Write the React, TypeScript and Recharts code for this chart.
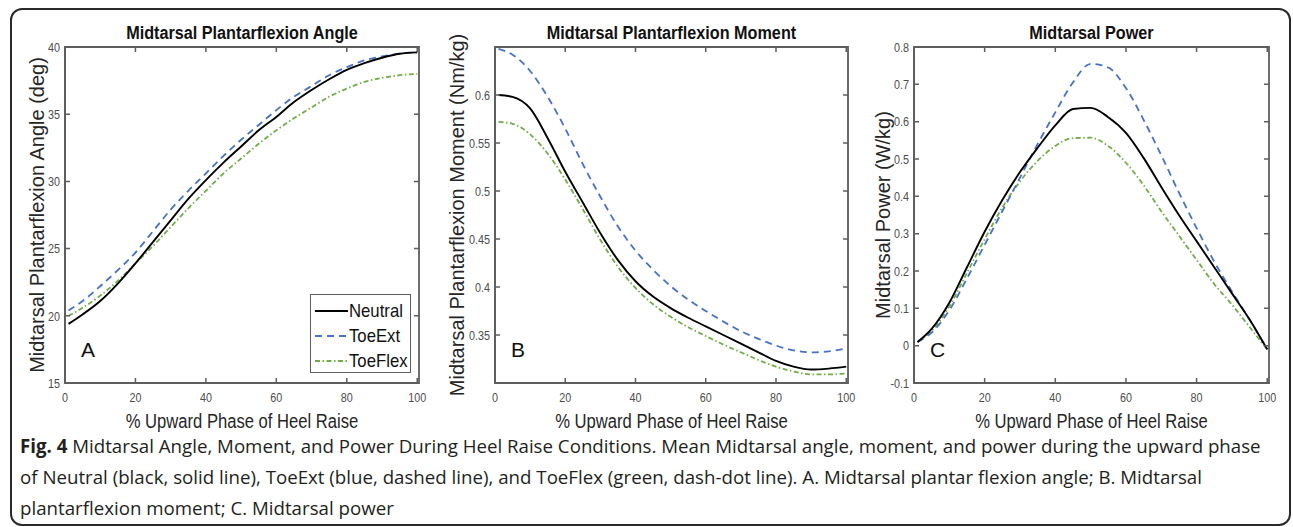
import { Legend, Line, LineChart, ReferenceArea, XAxis, YAxis } from "recharts";

// % of upward phase where the curves were sampled
const pct = [1, 5, 10, 15, 20, 25, 30, 35, 40, 45, 50, 55, 60, 65, 70, 75, 80, 85, 90, 95, 100];
const xTicks = [0, 20, 40, 60, 80, 100];
const X_MAX = 100.5;

// A. plantarflexion angle (deg)
const angleNeutral = [19.4, 20.1, 21.1, 22.4, 23.9, 25.5, 27.1, 28.7, 30.1, 31.4, 32.6, 33.8, 34.8, 35.9, 36.8, 37.6, 38.3, 38.8, 39.2, 39.5, 39.6];
const angleToeExt = [20.4, 21.1, 22.2, 23.4, 24.7, 26.3, 27.9, 29.3, 30.6, 31.9, 33.1, 34.2, 35.3, 36.3, 37.1, 37.9, 38.5, 39.0, 39.3, 39.5, 39.6];
const angleToeFlex = [20.0, 20.6, 21.5, 22.6, 23.9, 25.2, 26.6, 28.0, 29.3, 30.6, 31.7, 32.8, 33.8, 34.7, 35.5, 36.3, 36.9, 37.4, 37.7, 37.9, 38.0];
const angleTicks = [15, 20, 25, 30, 35, 40];

// B. plantarflexion moment (Nm/kg)
const momentNeutral = [0.6, 0.598, 0.586, 0.555, 0.52, 0.488, 0.456, 0.428, 0.406, 0.39, 0.378, 0.368, 0.359, 0.35, 0.341, 0.332, 0.323, 0.317, 0.314, 0.315, 0.317];
const momentToeExt = [0.648, 0.642, 0.625, 0.598, 0.565, 0.528, 0.494, 0.463, 0.438, 0.418, 0.401, 0.387, 0.375, 0.364, 0.354, 0.346, 0.339, 0.334, 0.332, 0.333, 0.336];
const momentToeFlex = [0.572, 0.57, 0.559, 0.539, 0.512, 0.481, 0.449, 0.421, 0.399, 0.382, 0.369, 0.358, 0.349, 0.34, 0.332, 0.324, 0.317, 0.312, 0.309, 0.309, 0.31];
const momentTicks = [0.35, 0.4, 0.45, 0.5, 0.55, 0.6];

// C. power (W/kg)
const powerNeutral = [0.01, 0.045, 0.115, 0.21, 0.305, 0.39, 0.465, 0.53, 0.59, 0.634, 0.637, 0.612, 0.57, 0.503, 0.425, 0.35, 0.28, 0.21, 0.14, 0.07, -0.01];
const powerToeExt = [0.01, 0.035, 0.095, 0.18, 0.27, 0.36, 0.45, 0.54, 0.625, 0.705, 0.755, 0.745, 0.69, 0.605, 0.51, 0.41, 0.315, 0.225, 0.145, 0.07, -0.01];
const powerToeFlex = [0.01, 0.04, 0.105, 0.195, 0.285, 0.37, 0.44, 0.495, 0.535, 0.556, 0.557, 0.535, 0.49, 0.43, 0.36, 0.295, 0.23, 0.165, 0.11, 0.05, -0.01];
const powerTicks = [-0.1, 0, 0.1, 0.2, 0.3, 0.4, 0.5, 0.6, 0.7, 0.8];

const seriesNames = ["Neutral", "ToeExt", "ToeFlex"];

const SANS = "'Liberation Sans', Arial, sans-serif";
const BOX = "#5e5e5e";
const TICK_TEXT = "#4d4d4d";
const BLUE = "#4472c4";
const GREEN = "#70ad47";
const BLUE_DASH = "7 5";
const GREEN_DASH = "5 2.5 1.5 2.5";

const PLOT_TOP = 47;
const PLOT_BOTTOM = 383;
const CHART_H = 440;
const Y_AXIS_W = 50;
const X_AXIS_H = 30;
const TICK_LEN = 5;

function buildRows(neutral: number[], toeExt: number[], toeFlex: number[]) {
  return pct.map((x, i) => ({ x, neutral: neutral[i], toeExt: toeExt[i], toeFlex: toeFlex[i] }));
}

function LegendBox() {
  const rows = [
    { name: seriesNames[0], stroke: "#000", dash: undefined },
    { name: seriesNames[1], stroke: BLUE, dash: BLUE_DASH },
    { name: seriesNames[2], stroke: GREEN, dash: GREEN_DASH },
  ];
  return (
    <div style={{ width: 101, height: 79, boxSizing: "border-box", border: `1px solid ${BOX}`, background: "#fff", paddingTop: 3 }}>
      {rows.map((r) => (
        <div key={r.name} style={{ display: "flex", alignItems: "center", height: 25 }}>
          <svg width={38} height={10} style={{ display: "block", flex: "none" }}>
            <line x1={4} x2={37} y1={5} y2={5} stroke={r.stroke} strokeWidth={1.8} strokeDasharray={r.dash} />
          </svg>
          <span style={{ fontFamily: SANS, fontSize: 19, color: "#111", lineHeight: "20px", display: "inline-block", transform: "scaleX(0.88)", transformOrigin: "left center", whiteSpace: "nowrap" }}>
            {r.name}
          </span>
        </div>
      ))}
    </div>
  );
}

type PanelProps = {
  left: number;
  width: number;
  plotLeft: number;
  plotRight: number;
  rows: ReturnType<typeof buildRows>;
  yDomain: [number, number];
  yTicks: number[];
  title: string;
  yLabel: string;
  yLabelX: number;
  letter: string;
  withLegend?: boolean;
};

function Panel({ left, width, plotLeft, plotRight, rows, yDomain, yTicks, title, yLabel, yLabelX, letter, withLegend }: PanelProps) {
  const plotW = plotRight - plotLeft;
  const midY = (PLOT_TOP + PLOT_BOTTOM) / 2;
  const innerLeft = plotLeft - left;
  const innerRight = plotRight - left;

  // labels outside, tick marks pointing inward on both opposite edges (matlab box)
  const renderXTick = (props: any) => {
    const { x, y, payload } = props;
    return (
      <g>
        <path d={`M${x},${PLOT_BOTTOM}V${PLOT_BOTTOM - TICK_LEN}M${x},${PLOT_TOP}V${PLOT_TOP + TICK_LEN}`} stroke={BOX} strokeWidth={1.5} fill="none" />
        <text transform={`translate(${x},${y}) scale(0.8,1)`} textAnchor="middle" dy="0.71em" fontSize={13.5} fill={TICK_TEXT} fontFamily={SANS}>
          {payload.value}
        </text>
      </g>
    );
  };
  const renderYTick = (props: any) => {
    const { x, y, payload } = props;
    return (
      <g>
        <path d={`M${innerLeft},${y}H${innerLeft + TICK_LEN}M${innerRight},${y}H${innerRight - TICK_LEN}`} stroke={BOX} strokeWidth={1.5} fill="none" />
        <text transform={`translate(${x},${y}) scale(0.8,1)`} textAnchor="end" dy="0.355em" fontSize={13.5} fill={TICK_TEXT} fontFamily={SANS}>
          {String(payload.value)}
        </text>
      </g>
    );
  };

  return (
    <>
      <div style={{ position: "absolute", left, top: 0, width, height: CHART_H, zIndex: 1 }}>
        <LineChart
          width={width}
          height={CHART_H}
          data={rows}
          margin={{
            top: PLOT_TOP,
            right: width - innerRight,
            left: innerLeft - Y_AXIS_W,
            bottom: CHART_H - PLOT_BOTTOM - X_AXIS_H,
          }}
        >
          <XAxis
            dataKey="x"
            type="number"
            domain={[0, X_MAX]}
            ticks={xTicks}
            interval={0}
            allowDataOverflow
            height={X_AXIS_H}
            tickSize={0}
            tickMargin={9}
            stroke={BOX}
            axisLine={{ stroke: BOX, strokeWidth: 1.8 }}
            tick={renderXTick}
          />
          <YAxis
            type="number"
            domain={yDomain}
            ticks={yTicks}
            interval={0}
            allowDataOverflow
            width={Y_AXIS_W}
            tickSize={0}
            tickMargin={5}
            stroke={BOX}
            axisLine={{ stroke: BOX, strokeWidth: 1.8 }}
            tick={renderYTick}
          />
          <ReferenceArea x1={0} x2={X_MAX} y1={yDomain[0]} y2={yDomain[1]} fill="none" stroke={BOX} strokeWidth={1.8} ifOverflow="visible" />
          {withLegend ? (
            <Legend
              layout="vertical"
              align="center"
              verticalAlign="middle"
              wrapperStyle={{ left: 310 - left, top: 294, width: 101, height: 79 }}
              content={() => <LegendBox />}
            />
          ) : null}
          <Line type="monotone" dataKey="toeFlex" name={seriesNames[2]} stroke={GREEN} strokeWidth={1.8} strokeDasharray={GREEN_DASH} dot={false} isAnimationActive={false} />
          <Line type="monotone" dataKey="toeExt" name={seriesNames[1]} stroke={BLUE} strokeWidth={1.8} strokeDasharray={BLUE_DASH} dot={false} isAnimationActive={false} />
          <Line type="monotone" dataKey="neutral" name={seriesNames[0]} stroke="#000" strokeWidth={1.9} dot={false} isAnimationActive={false} />
        </LineChart>
      </div>
      <div style={{ position: "absolute", zIndex: 2, left: plotLeft, width: plotW, top: 22, textAlign: "center", fontFamily: SANS, fontWeight: "bold", fontSize: 18, lineHeight: "22px", color: "#111", transform: "scaleX(0.9)", whiteSpace: "nowrap" }}>
        {title}
      </div>
      <div style={{ position: "absolute", zIndex: 2, left: plotLeft, width: plotW, top: 409, textAlign: "center", fontFamily: SANS, fontSize: 20, lineHeight: "24px", color: "#262626", transform: "scaleX(0.83)", whiteSpace: "nowrap" }}>
        % Upward Phase of Heel Raise
      </div>
      <div
        style={{
          position: "absolute",
          zIndex: 2,
          left: yLabelX,
          top: midY,
          transform: "translate(-50%, -50%) rotate(-90deg)",
          whiteSpace: "nowrap",
          fontFamily: SANS,
          fontSize: 20,
          lineHeight: "24px",
          color: "#262626",
        }}
      >
        {yLabel}
      </div>
      <div style={{ position: "absolute", zIndex: 2, left: plotLeft + 16, top: 338, fontFamily: SANS, fontSize: 21, lineHeight: "24px", color: "#111" }}>
        {letter}
      </div>
    </>
  );
}

export default function App() {
  return (
    <div style={{ position: "absolute", left: 0, top: 0, width: 1293, height: 527, background: "#fff", overflow: "hidden" }}>
      <div style={{ position: "absolute", left: 10, top: 8, width: 1281, height: 518, boxSizing: "border-box", border: "2px solid #2a2a2a", borderRadius: 12 }} />
      <Panel
        left={0}
        width={440}
        plotLeft={65}
        plotRight={419}
        rows={buildRows(angleNeutral, angleToeExt, angleToeFlex)}
        yDomain={[15, 40]}
        yTicks={angleTicks}
        title="Midtarsal Plantarflexion Angle"
        yLabel="Midtarsal Plantarflexion Angle (deg)"
        yLabelX={37}
        letter="A"
        withLegend
      />
      <Panel
        left={440}
        width={420}
        plotLeft={495}
        plotRight={848}
        rows={buildRows(momentNeutral, momentToeExt, momentToeFlex)}
        yDomain={[0.3, 0.65]}
        yTicks={momentTicks}
        title="Midtarsal Plantarflexion Moment"
        yLabel="Midtarsal Plantarflexion Moment (Nm/kg)"
        yLabelX={457}
        letter="B"
      />
      <Panel
        left={860}
        width={433}
        plotLeft={914}
        plotRight={1269}
        rows={buildRows(powerNeutral, powerToeExt, powerToeFlex)}
        yDomain={[-0.1, 0.8]}
        yTicks={powerTicks}
        title="Midtarsal Power"
        yLabel="Midtarsal Power (W/kg)"
        yLabelX={883}
        letter="C"
      />
      <div style={{ position: "absolute", zIndex: 2, left: 20, top: 430, width: 1265, fontFamily: "'Open Sans', sans-serif", fontSize: 18.7, lineHeight: "31px", color: "#231f20", whiteSpace: "nowrap" }}>
        <b>Fig. 4</b> Midtarsal Angle, Moment, and Power During Heel Raise Conditions. Mean Midtarsal angle, moment, and power during the upward phase
        <br />
        of Neutral (black, solid line), ToeExt (blue, dashed line), and ToeFlex (green, dash-dot line). A. Midtarsal plantar flexion angle; B. Midtarsal
        <br />
        plantarflexion moment; C. Midtarsal power
      </div>
    </div>
  );
}
